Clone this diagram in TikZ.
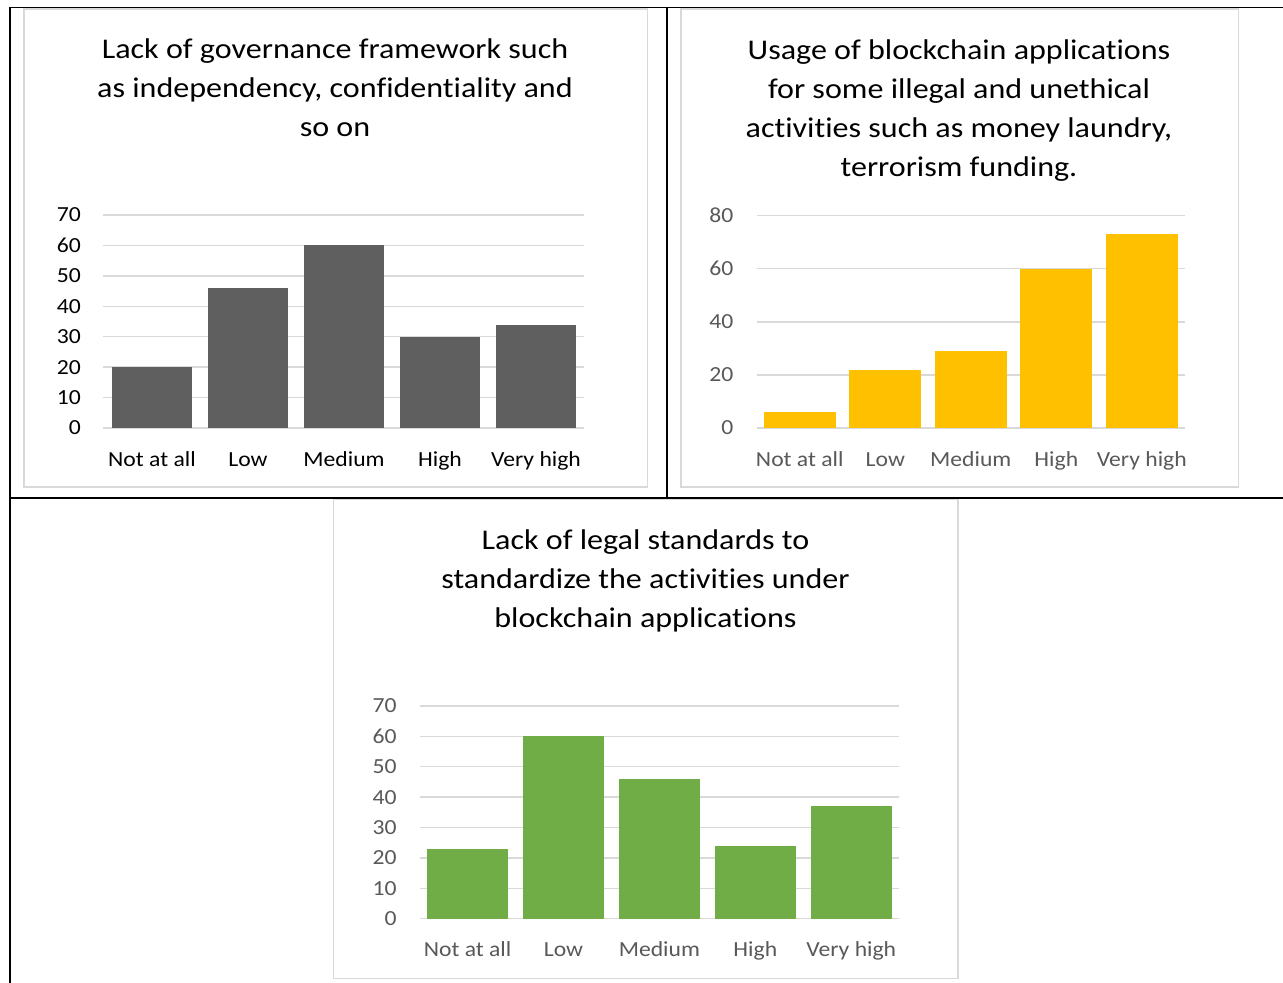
\documentclass[tikz,border=0pt]{standalone}
\usepackage{fontspec}
\setmainfont{Carlito}[FakeStretch=1.1, Ligatures=NoCommon]
\newfontfamily\titlefam{Carlito}[FakeStretch=1.125, Ligatures=NoCommon]
\definecolor{gridc}{HTML}{D9D9D9}
\definecolor{barone}{HTML}{5F5F5F}
\definecolor{bartwo}{HTML}{FFC000}
\definecolor{barthree}{HTML}{70AD47}
\definecolor{labc}{HTML}{595959}
\tikzset{
  tableline/.style={draw=black, line width=1.8pt},
  chartframe/.style={draw=gridc, line width=1.6pt, fill=white},
  gridln/.style={draw=gridc, line width=1.4pt},
  titletext/.style={inner sep=0pt, anchor=base, text=black, font=\titlefam\fontsize{28.5}{39}\selectfont},
  axl/.style={inner sep=0pt, anchor=east, font=\fontsize{21.5}{25}\selectfont},
  catl/.style={inner sep=0pt, anchor=base, font=\fontsize{21.5}{25}\selectfont},
}
\begin{document}
\begin{tikzpicture}[x=1pt, y=-1pt]
\useasboundingbox (0,0) rectangle (1283,983);
% table rules
\draw[tableline] (9,7.4) -- (1283,7.4);
\draw[tableline] (9.9,6.5) -- (9.9,983);
\draw[tableline] (666.7,7.4) -- (666.7,497.6);
\draw[tableline] (9.9,497.6) -- (1283,497.6);
% chart frames
\draw[chartframe] (24,9) rectangle (647.5,487);
\draw[chartframe] (681,9) rectangle (1238.5,487);
\draw[chartframe] (333.5,499.5) rectangle (958,978.3);

% ---------- chart 1 ----------
\node[titletext] (t1a) at (335,58.7) {Lack of governance framework such};
\node[titletext] (t1b) at (335,97.7) {as independency, confidentiality and};
\node[titletext] (t1c) at (335,136.7) {so on};
\foreach \k [evaluate=\k as \v using int(10*\k)] in {0,...,7}{
  \draw[gridln] (103.3,{428-30.43*\k}) -- (583.5,{428-30.43*\k});
  \node[axl, text=black] (a1-\k) at (81,{428-30.43*\k}) {\v};
}
\foreach \v [count=\i] in {20,46,60,30,34}
  \fill[barone] ({104+96*(\i-0.5)-40.3},428) rectangle ({104+96*(\i-0.5)+40.3},{428-3.043*\v});
\foreach \t [count=\i] in {Not at all,Low,Medium,High,Very high}
  \node[catl, text=black] (c1-\i) at ({104+96*(\i-0.5)},466.2) {\t};

% ---------- chart 2 ----------
\node[titletext] (t2a) at (959,59) {Usage of blockchain applications};
\node[titletext] (t2b) at (959,98) {for some illegal and unethical};
\node[titletext] (t2c) at (959,137) {activities such as money laundry,};
\node[titletext] (t2d) at (959,176) {terrorism funding.};
\foreach \k [evaluate=\k as \v using int(20*\k)] in {0,...,4}{
  \draw[gridln] (757,{428-53.08*\k}) -- (1184.6,{428-53.08*\k});
  \node[axl, text=labc] (a2-\k) at (733.5,{428-53.08*\k}) {\v};
}
\foreach \v [count=\i] in {6,22,29,60,73}
  \fill[bartwo] ({757+85.52*(\i-0.5)-36},428) rectangle ({757+85.52*(\i-0.5)+36},{428-2.654*\v});
\foreach \t [count=\i] in {Not at all,Low,Medium,High,Very high}
  \node[catl, text=labc] (c2-\i) at ({757+85.52*(\i-0.5)},466) {\t};

% ---------- chart 3 ----------
\node[titletext] (t3a) at (645.5,549.5) {Lack of legal standards to};
\node[titletext] (t3b) at (645.5,588.5) {standardize the activities under};
\node[titletext] (t3c) at (645.5,627) {blockchain applications};
\foreach \k [evaluate=\k as \v using int(10*\k)] in {0,...,7}{
  \draw[gridln] (419.6,{918.7-30.4*\k}) -- (899.2,{918.7-30.4*\k});
  \node[axl, text=labc] (a3-\k) at (396.7,{918.7-30.4*\k}) {\v};
}
\foreach \v [count=\i] in {23,60,46,24,37}
  \fill[barthree] ({419.6+95.92*(\i-0.5)-40.3},918.7) rectangle ({419.6+95.92*(\i-0.5)+40.3},{918.7-3.04*\v});
\foreach \t [count=\i] in {Not at all,Low,Medium,High,Very high}
  \node[catl, text=labc] (c3-\i) at ({419.6+95.92*(\i-0.5)},956.7) {\t};
\end{tikzpicture}
\end{document}
